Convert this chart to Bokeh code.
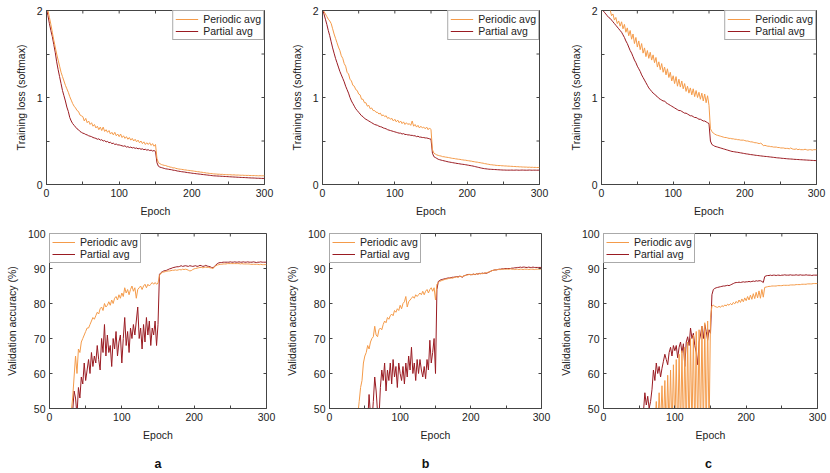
import math
from bokeh.plotting import figure
from bokeh.models import Range1d, FixedTicker, Legend, LegendItem, Title
from bokeh.layouts import column, row
from bokeh.embed import file_html
from bokeh.resources import INLINE

# ---------------- data ----------------
epochs = list(range(0, 301, 2))

x_ticks = [0, 100, 200, 300]
x_minor = [50, 150, 250]
loss_ticks = [0, 1, 2]
loss_minor = [0.5, 1.5]
acc_ticks = [50, 60, 70, 80, 90, 100]

series_names = ["Periodic avg", "Partial avg"]
panel_letters = ["a", "b", "c"]

a_loss_periodic = [
    2.08, 2.00, 1.92, 1.84, 1.75, 1.66, 1.58, 1.50, 1.43, 1.36,
    1.29, 1.24, 1.19, 1.14, 1.10, 1.06, 1.01, 0.97, 0.93, 0.90,
    0.88, 0.85, 0.84, 0.80, 0.79, 0.78, 0.73, 0.76, 0.71, 0.73,
    0.69, 0.71, 0.67, 0.69, 0.65, 0.67, 0.63, 0.66, 0.62, 0.66,
    0.61, 0.63, 0.60, 0.62, 0.58, 0.60, 0.57, 0.60, 0.56, 0.58,
    0.55, 0.58, 0.54, 0.56, 0.53, 0.55, 0.52, 0.54, 0.51, 0.53,
    0.50, 0.52, 0.49, 0.51, 0.48, 0.50, 0.47, 0.49, 0.46, 0.48,
    0.46, 0.48, 0.45, 0.47, 0.44, 0.46, 0.30, 0.25, 0.24, 0.23,
    0.225, 0.22, 0.218, 0.21, 0.207, 0.20, 0.198, 0.19, 0.192, 0.185,
    0.182, 0.178, 0.176, 0.174, 0.171, 0.168, 0.167, 0.163, 0.162, 0.16,
    0.157, 0.155, 0.152, 0.15, 0.147, 0.146, 0.142, 0.141, 0.137, 0.136,
    0.132, 0.131, 0.128, 0.126, 0.125, 0.122, 0.121, 0.12, 0.118, 0.118,
    0.116, 0.117, 0.114, 0.114, 0.113, 0.112, 0.113, 0.111, 0.11, 0.111,
    0.109, 0.108, 0.109, 0.107, 0.106, 0.107, 0.105, 0.105, 0.104, 0.105,
    0.103, 0.103, 0.102, 0.103, 0.101, 0.101, 0.10, 0.101, 0.10, 0.10,
    0.10]

a_loss_partial = [
    2.02, 1.94, 1.85, 1.77, 1.70, 1.61, 1.52, 1.41, 1.32, 1.24,
    1.16, 1.08, 1.02, 0.96, 0.89, 0.84, 0.77, 0.73, 0.70, 0.68,
    0.66, 0.64, 0.63, 0.61, 0.60, 0.59, 0.585, 0.575, 0.57, 0.56,
    0.555, 0.55, 0.54, 0.535, 0.53, 0.52, 0.525, 0.51, 0.515, 0.50,
    0.505, 0.49, 0.495, 0.48, 0.485, 0.47, 0.475, 0.46, 0.465, 0.455,
    0.455, 0.45, 0.445, 0.44, 0.445, 0.43, 0.435, 0.425, 0.43, 0.42,
    0.425, 0.415, 0.42, 0.41, 0.415, 0.405, 0.41, 0.40, 0.405, 0.395,
    0.40, 0.39, 0.395, 0.385, 0.39, 0.38, 0.25, 0.21, 0.20, 0.195,
    0.19, 0.185, 0.18, 0.178, 0.175, 0.172, 0.17, 0.165, 0.163, 0.16,
    0.155, 0.153, 0.15, 0.147, 0.145, 0.143, 0.14, 0.137, 0.135, 0.133,
    0.13, 0.128, 0.126, 0.124, 0.122, 0.12, 0.118, 0.116, 0.114, 0.112,
    0.11, 0.108, 0.106, 0.104, 0.102, 0.10, 0.099, 0.098, 0.097, 0.096,
    0.095, 0.094, 0.093, 0.092, 0.091, 0.09, 0.089, 0.088, 0.087, 0.086,
    0.085, 0.084, 0.083, 0.082, 0.081, 0.08, 0.08, 0.079, 0.078, 0.077,
    0.076, 0.075, 0.075, 0.074, 0.073, 0.072, 0.072, 0.071, 0.07, 0.07,
    0.07]

b_loss_periodic = [
    2.02, 1.99, 1.96, 1.93, 1.90, 1.88, 1.85, 1.79, 1.73, 1.68,
    1.63, 1.58, 1.54, 1.48, 1.45, 1.39, 1.36, 1.29, 1.27, 1.21,
    1.19, 1.14, 1.13, 1.09, 1.08, 1.04, 1.03, 0.98, 0.98, 0.94,
    0.94, 0.90, 0.91, 0.87, 0.88, 0.85, 0.85, 0.83, 0.83, 0.81,
    0.82, 0.79, 0.80, 0.78, 0.79, 0.76, 0.77, 0.75, 0.76, 0.73,
    0.75, 0.72, 0.74, 0.71, 0.73, 0.70, 0.72, 0.69, 0.71, 0.69,
    0.70, 0.68, 0.73, 0.67, 0.69, 0.66, 0.68, 0.65, 0.67, 0.65,
    0.66, 0.64, 0.66, 0.63, 0.65, 0.63, 0.40, 0.36, 0.35, 0.34,
    0.335, 0.33, 0.327, 0.32, 0.319, 0.315, 0.313, 0.31, 0.307, 0.303,
    0.30, 0.299, 0.295, 0.293, 0.29, 0.289, 0.285, 0.283, 0.28, 0.279,
    0.275, 0.273, 0.27, 0.268, 0.264, 0.262, 0.258, 0.257, 0.253, 0.251,
    0.247, 0.245, 0.24, 0.238, 0.234, 0.232, 0.228, 0.227, 0.224, 0.223,
    0.22, 0.219, 0.217, 0.218, 0.215, 0.215, 0.213, 0.213, 0.211, 0.211,
    0.209, 0.209, 0.207, 0.207, 0.205, 0.205, 0.203, 0.203, 0.201, 0.201,
    0.20, 0.20, 0.198, 0.199, 0.197, 0.198, 0.196, 0.197, 0.195, 0.196,
    0.195]

b_loss_partial = [
    2.02, 1.96, 1.90, 1.84, 1.77, 1.71, 1.64, 1.57, 1.51, 1.45,
    1.40, 1.35, 1.30, 1.26, 1.22, 1.18, 1.13, 1.09, 1.05, 1.00,
    0.96, 0.93, 0.90, 0.87, 0.85, 0.83, 0.81, 0.79, 0.78, 0.76,
    0.75, 0.74, 0.73, 0.72, 0.71, 0.70, 0.69, 0.685, 0.68, 0.67,
    0.665, 0.66, 0.65, 0.645, 0.64, 0.63, 0.625, 0.62, 0.615, 0.61,
    0.605, 0.60, 0.595, 0.59, 0.59, 0.58, 0.585, 0.575, 0.575, 0.57,
    0.57, 0.565, 0.565, 0.56, 0.56, 0.55, 0.555, 0.545, 0.545, 0.54,
    0.54, 0.535, 0.535, 0.53, 0.525, 0.52, 0.36, 0.32, 0.31, 0.30,
    0.29, 0.285, 0.28, 0.276, 0.272, 0.268, 0.264, 0.26, 0.257, 0.254,
    0.251, 0.248, 0.245, 0.242, 0.24, 0.237, 0.234, 0.232, 0.23, 0.227,
    0.224, 0.221, 0.218, 0.215, 0.212, 0.208, 0.204, 0.20, 0.196, 0.192,
    0.188, 0.185, 0.182, 0.18, 0.178, 0.176, 0.175, 0.174, 0.173, 0.172,
    0.171, 0.17, 0.169, 0.168, 0.167, 0.166, 0.166, 0.165, 0.165, 0.165,
    0.165, 0.166, 0.164, 0.165, 0.166, 0.165, 0.164, 0.165, 0.166, 0.165,
    0.165, 0.164, 0.165, 0.166, 0.165, 0.164, 0.165, 0.165, 0.164, 0.165,
    0.165]

c_loss_periodic = [
    2.30, 2.26, 2.22, 2.16, 2.11, 2.06, 2.01, 1.94, 1.96, 1.89,
    1.92, 1.85, 1.88, 1.82, 1.87, 1.79, 1.84, 1.75, 1.80, 1.71,
    1.77, 1.67, 1.73, 1.62, 1.69, 1.58, 1.65, 1.55, 1.62, 1.51,
    1.57, 1.47, 1.54, 1.45, 1.52, 1.43, 1.49, 1.40, 1.46, 1.35,
    1.41, 1.32, 1.39, 1.29, 1.35, 1.26, 1.33, 1.23, 1.29, 1.19,
    1.25, 1.16, 1.24, 1.13, 1.21, 1.12, 1.19, 1.10, 1.16, 1.07,
    1.13, 1.05, 1.11, 1.03, 1.10, 1.01, 1.08, 1.00, 1.06, 0.98,
    1.05, 0.96, 1.04, 0.94, 1.02, 0.91, 0.64, 0.61, 0.59, 0.58,
    0.57, 0.565, 0.56, 0.555, 0.55, 0.545, 0.54, 0.54, 0.535, 0.53,
    0.53, 0.525, 0.525, 0.52, 0.52, 0.515, 0.515, 0.51, 0.51, 0.51,
    0.505, 0.50, 0.50, 0.495, 0.49, 0.49, 0.485, 0.48, 0.48, 0.475,
    0.47, 0.475, 0.465, 0.445, 0.45, 0.445, 0.44, 0.44, 0.435, 0.435,
    0.43, 0.43, 0.43, 0.425, 0.425, 0.42, 0.42, 0.42, 0.415, 0.415,
    0.415, 0.41, 0.42, 0.41, 0.405, 0.405, 0.41, 0.40, 0.405, 0.40,
    0.40, 0.40, 0.405, 0.40, 0.395, 0.40, 0.40, 0.395, 0.40, 0.40,
    0.40]

c_loss_partial = [
    2.02, 2.00, 1.98, 1.96, 1.94, 1.92, 1.91, 1.89, 1.87, 1.85,
    1.83, 1.81, 1.79, 1.77, 1.75, 1.72, 1.69, 1.65, 1.62, 1.58,
    1.54, 1.51, 1.47, 1.43, 1.40, 1.36, 1.33, 1.30, 1.26, 1.23,
    1.20, 1.17, 1.14, 1.11, 1.09, 1.07, 1.05, 1.04, 1.02, 1.01,
    0.99, 0.98, 0.97, 0.96, 0.96, 0.94, 0.93, 0.92, 0.91, 0.90,
    0.89, 0.88, 0.87, 0.86, 0.85, 0.85, 0.84, 0.83, 0.82, 0.82,
    0.81, 0.80, 0.79, 0.79, 0.78, 0.77, 0.77, 0.76, 0.75, 0.75,
    0.74, 0.73, 0.73, 0.72, 0.71, 0.70, 0.50, 0.46, 0.45, 0.44,
    0.435, 0.43, 0.425, 0.42, 0.415, 0.41, 0.405, 0.40, 0.395, 0.39,
    0.385, 0.38, 0.378, 0.375, 0.372, 0.37, 0.367, 0.364, 0.361, 0.358,
    0.355, 0.352, 0.35, 0.347, 0.344, 0.342, 0.34, 0.337, 0.335, 0.333,
    0.331, 0.329, 0.327, 0.325, 0.323, 0.322, 0.32, 0.318, 0.316, 0.314,
    0.312, 0.31, 0.308, 0.306, 0.305, 0.303, 0.301, 0.30, 0.298, 0.297,
    0.295, 0.294, 0.293, 0.292, 0.29, 0.289, 0.288, 0.287, 0.286, 0.285,
    0.284, 0.283, 0.282, 0.281, 0.28, 0.279, 0.278, 0.277, 0.276, 0.275,
    0.275]

a_acc_periodic = [
    10, 10, 11, 12, 14, 17, 20, 23, 26, 29,
    32, 35, 38, 42, 46, 49, 53, 59, 65, 60,
    67, 66, 69, 70, 71, 72, 73, 73, 74, 75,
    76, 75.5, 76.5, 77.5, 77, 78.5, 79, 78, 80, 79,
    79.5, 80.5, 79.5, 81, 80, 81.5, 82, 81, 82.5, 81.5,
    83, 82, 84.5, 83, 84, 82.5, 84, 85, 83.5, 84.5,
    81.5, 84, 84.5, 85, 84, 85, 85.5, 84.5, 85.5, 85,
    85.5, 86, 85.5, 86, 85.5, 85.8, 88.0, 88.6, 88.9, 89.0,
    89.1, 89.2, 89.3, 89.3, 89.4, 89.5, 89.5, 89.6, 89.5, 89.6,
    89.7, 89.6, 89.8, 89.7, 89.8, 89.7, 89.5, 89.3, 89.4, 89.7,
    89.9, 90.0, 90.1, 90.2, 90.3, 90.3, 90.2, 90.3, 90.4, 90.3,
    90.3, 90.2, 90.1, 90.0, 90.4, 90.8, 91.0, 91.1, 91.2, 91.2,
    91.3, 91.3, 91.3, 91.4, 91.4, 91.4, 91.4, 91.4, 91.4, 91.4,
    91.4, 91.4, 91.3, 91.4, 91.3, 91.3, 91.3, 91.3, 91.3, 91.2,
    91.2, 91.2, 91.2, 91.2, 91.2, 91.1, 91.2, 91.1, 91.1, 91.1,
    91.1]

a_acc_partial = [
    10, 10, 10, 11, 12, 14, 16, 18, 21, 24,
    27, 30, 33, 37, 41, 45, 49, 55, 53, 48,
    56, 53, 59, 57, 63, 58, 61, 64, 60, 66,
    62, 65, 63, 68, 64, 61, 70, 66, 74, 65,
    71, 66, 68, 62, 70, 67, 72, 65, 69, 71,
    63, 70, 76, 68, 72, 66, 73, 70, 74, 71,
    75, 79, 70, 73, 67, 74, 69, 76, 71, 75,
    68, 73, 71, 75, 68, 74, 88.3, 88.8, 89.1, 89.3,
    89.4, 89.5, 89.7, 89.9, 90.0, 90.2, 90.3, 90.4, 90.5, 90.5,
    90.6, 90.8, 90.6, 90.7, 90.8, 90.7, 90.6, 90.8, 90.7, 90.6,
    90.7, 90.8, 90.6, 90.7, 90.9, 90.8, 90.6, 90.7, 90.9, 90.7,
    90.6, 90.5, 90.3, 90.2, 90.6, 91.0, 91.4, 91.6, 91.7, 91.7,
    91.8, 91.8, 91.8, 91.8, 91.8, 91.9, 91.8, 91.8, 91.9, 91.8,
    91.8, 91.9, 91.8, 91.8, 91.9, 91.8, 91.8, 91.9, 91.8, 91.8,
    91.8, 91.9, 91.8, 91.7, 91.8, 91.8, 91.9, 91.8, 91.8, 91.8,
    91.8]

b_acc_periodic = [
    10, 10, 10, 11, 12, 13, 15, 17, 19, 21,
    23, 25, 27, 29, 31, 33, 36, 39, 42, 45,
    48, 52, 56, 58, 63, 65, 66, 68, 67, 69,
    70, 70.5, 73.5, 71, 70.5, 72.5, 73, 72.5, 74, 75,
    74.5, 76, 75.5, 76.5, 77, 76.5, 78, 77.5, 78.5, 78,
    79.5, 78.5, 80, 80.5, 82, 79, 80.5, 81, 81.5, 82,
    81.5, 82.5, 82, 82.5, 83, 82.5, 83.5, 82.5, 83.5, 84,
    83, 84, 84.5, 83.5, 84.5, 81, 85.5, 86, 86.3, 86.5,
    86.6, 86.8, 86.9, 87.0, 87.1, 87.2, 87.3, 87.2, 87.4, 87.5,
    87.6, 87.5, 87.7, 87.8, 87.6, 87.9, 88.0, 88.1, 88.2, 88.3,
    88.3, 88.2, 88.4, 88.3, 88.5, 88.4, 88.5, 88.6, 88.5, 88.6,
    88.7, 88.8, 88.9, 89.0, 89.2, 89.4, 89.5, 89.6, 89.6, 89.7,
    89.7, 89.7, 89.8, 89.8, 89.8, 89.8, 89.8, 89.8, 89.9, 89.8,
    89.8, 89.7, 89.8, 89.8, 89.7, 89.8, 89.8, 89.7, 89.8, 89.8,
    89.8, 89.7, 89.8, 89.8, 89.8, 89.7, 89.8, 89.8, 89.8, 89.8,
    89.9]

b_acc_partial = [
    10, 10, 10, 10, 11, 11, 12, 12, 13, 14,
    15, 16, 17, 18, 20, 22, 24, 26, 28, 30,
    32, 34, 36, 38, 40, 42, 44, 46, 54, 48,
    46, 52, 59, 55, 49, 47, 56, 61, 58, 63,
    55, 61, 58, 63, 57, 64, 59, 62, 56, 63,
    60, 58, 62, 57, 63, 59, 65, 61, 67.5, 60,
    63, 58, 64, 60, 64, 61, 59, 62, 58.5, 64,
    61, 69.5, 63, 66, 70, 60, 84, 86.3, 86.6, 86.8,
    86.9, 87.0, 87.1, 87.2, 87.3, 87.3, 87.4, 87.5, 87.5, 87.6,
    87.7, 87.6, 87.8, 87.7, 87.5, 87.9, 88.0, 88.2, 88.3, 88.3,
    88.2, 88.3, 88.4, 88.2, 88.5, 88.4, 88.6, 88.5, 88.7, 88.6,
    88.7, 88.6, 88.8, 89.0, 89.2, 89.4, 89.5, 89.6, 89.6, 89.7,
    89.8, 89.8, 89.9, 89.9, 90.0, 90.0, 90.0, 90.0, 90.0, 90.1,
    90.1, 90.2, 90.2, 90.3, 90.3, 90.4, 90.3, 90.4, 90.4, 90.3,
    90.3, 90.4, 90.3, 90.3, 90.4, 90.3, 90.3, 90.3, 90.3, 90.3,
    90.3]

c_acc_periodic = [
    10, 10, 10, 10, 10, 10, 11, 11, 11, 12,
    12, 13, 13, 14, 15, 16, 17, 18, 19, 20,
    22, 24, 26, 28, 30, 32, 34, 36, 38, 40,
    42, 44, 45, 47, 46, 48, 45, 52, 44, 54.5,
    45, 56.5, 44, 58, 43, 59.5, 44, 61, 43, 62.5,
    44, 64, 42, 65.5, 43, 66.5, 42, 67.5, 43, 69,
    42, 70, 43, 71, 42, 72, 43, 72.5, 42, 73.5,
    43, 74.5, 42, 75, 43, 76, 79.3, 79.5, 79.2, 79.0,
    78.9, 79.2, 78.9, 79.4, 79.1, 79.6, 79.3, 79.8, 79.5, 80.0,
    79.6, 80.3, 79.9, 80.6, 80.1, 81.0, 80.3, 81.3, 80.5, 81.6,
    80.8, 82.0, 81.0, 82.4, 81.2, 82.8, 81.4, 83.2, 81.6, 83.6,
    81.5, 84.0, 81.8, 84.6, 84.7, 84.8, 84.9, 84.9, 85.0, 85.0,
    85.0, 85.0, 85.1, 85.1, 85.1, 85.1, 85.2, 85.2, 85.2, 85.2,
    85.2, 85.3, 85.3, 85.3, 85.3, 85.4, 85.4, 85.4, 85.4, 85.5,
    85.5, 85.5, 85.5, 85.6, 85.6, 85.6, 85.6, 85.7, 85.7, 85.7,
    85.7]

c_acc_partial = [
    10, 10, 10, 10, 11, 11, 12, 12, 13, 14,
    15, 16, 17, 18, 20, 22, 24, 26, 28, 30,
    32, 34, 36, 38, 40, 42, 44, 46, 49, 54.5,
    51, 53.5, 50, 52, 55.5, 61, 58, 63, 60, 62,
    59, 61.5, 63.5, 65.5, 64, 62.5, 66, 67.5, 65, 68,
    66.5, 68, 64.5, 67.5, 69, 66, 68.5, 62, 69, 70.5,
    68, 73, 70, 71.5, 68, 66, 62.5, 69, 71, 73.5,
    70, 74, 72, 69.5, 72.5, 71.5, 82.5, 84.0, 84.3, 84.5,
    84.6, 84.7, 84.8, 84.9, 85.0, 85.0, 85.1, 85.2, 85.1, 85.3,
    85.5, 85.7, 85.9, 86.0, 86.0, 86.1, 86.0, 86.1, 86.2, 86.1,
    86.2, 86.2, 86.3, 86.2, 86.3, 86.4, 86.3, 86.5, 86.4, 86.5,
    86.5, 86.3, 86.0, 87.7, 87.9, 88.0, 88.0, 88.1, 88.0, 88.1,
    88.1, 88.0, 88.1, 88.1, 88.0, 88.1, 88.1, 88.2, 88.1, 88.1,
    88.1, 88.2, 88.1, 88.1, 88.1, 88.2, 88.1, 88.1, 88.2, 88.1,
    88.1, 88.1, 88.2, 88.1, 88.1, 88.1, 88.0, 88.1, 88.1, 88.1,
    88.1]

# ---------------- styling ----------------
ORANGE = "#F49B4A"
RED = "#9A1B22"
FRAME = "#444444"
TEXT = "#222222"
FONT = "Liberation Sans"
FS = "10.5px"


def make_panel(width, height, borders, yrange, yticks, yminor, ylabel,
               periodic, partial, legend_loc):
    bl, br, bt, bb = borders
    p = figure(width=width, height=height,
               x_range=Range1d(0, 300), y_range=Range1d(*yrange),
               output_backend="svg", toolbar_location=None,
               min_border_left=bl, min_border_right=br,
               min_border_top=bt, min_border_bottom=bb)
    p.grid.visible = False
    p.outline_line_color = FRAME
    p.outline_line_width = 1
    p.background_fill_color = "white"
    p.border_fill_color = "white"

    r_par = p.line(epochs, partial, line_color=RED, line_width=1)
    r_per = p.line(epochs, periodic, line_color=ORANGE, line_width=1)

    p.xaxis.ticker = FixedTicker(ticks=x_ticks, minor_ticks=x_minor)
    p.yaxis.ticker = FixedTicker(ticks=yticks, minor_ticks=yminor)
    p.xaxis.axis_label = "Epoch"
    p.yaxis.axis_label = ylabel
    for ax in (p.xaxis[0], p.yaxis[0]):
        ax.major_tick_in = 3
        ax.major_tick_out = 0
        ax.minor_tick_in = 3
        ax.minor_tick_out = 0
        ax.axis_line_color = FRAME
        ax.major_tick_line_color = FRAME
        ax.minor_tick_line_color = FRAME
        ax.major_label_text_font = FONT
        ax.major_label_text_font_size = FS
        ax.major_label_text_color = TEXT
        ax.axis_label_text_font = FONT
        ax.axis_label_text_font_size = FS
        ax.axis_label_text_font_style = "normal"
        ax.axis_label_text_color = TEXT
        ax.major_label_standoff = 4
    p.xaxis.axis_label_standoff = 5
    p.yaxis.axis_label_standoff = 7

    # mirrored inward ticks on the right and top edges
    right_t = list(yticks) + list(yminor)
    p.ray(x=[300] * len(right_t), y=right_t, length=3, angle=math.pi,
          length_units="screen", line_color=FRAME, line_width=1)
    top_t = x_ticks + x_minor
    p.ray(x=top_t, y=[yrange[1]] * len(top_t), length=3, angle=-math.pi / 2,
          length_units="screen", line_color=FRAME, line_width=1)

    legend = Legend(items=[LegendItem(label=series_names[0], renderers=[r_per]),
                           LegendItem(label=series_names[1], renderers=[r_par])],
                    location=legend_loc, margin=0, padding=2, spacing=0,
                    label_standoff=5, glyph_width=23, glyph_height=12,
                    label_height=12, border_line_color="#555555",
                    border_line_width=1, background_fill_color="white",
                    background_fill_alpha=1.0, label_text_font=FONT,
                    label_text_font_size=FS, label_text_color=TEXT)
    p.add_layout(legend)
    return p


def make_letter(width, height, bl, br, letter):
    # thin strip under a column that carries the panel letter, centred on its frame
    f = figure(width=width, height=height, x_range=Range1d(0, 300), y_range=Range1d(0, 1),
               output_backend="svg", toolbar_location=None,
               x_axis_location=None, y_axis_location=None,
               min_border_left=bl, min_border_right=br,
               min_border_top=0, min_border_bottom=0)
    f.grid.visible = False
    f.outline_line_color = None
    f.border_fill_color = "white"
    f.background_fill_color = "white"
    t = Title(text=letter, align="center", text_font=FONT, text_font_size="12.5px",
              text_font_style="bold", text_color="#111111", standoff=6)
    f.add_layout(t, "below")
    return f


loss_label = "Training loss (softmax)"
acc_label = "Validation accuracy (%)"

# top row: frames at x 46-264, 322-539, 599-816 ; y 10-184
pa = make_panel(285, 225, (46, 21, 10, 41), (0, 2), loss_ticks, loss_minor, loss_label,
                a_loss_periodic, a_loss_partial, "top_right")
pb = make_panel(281, 225, (37, 27, 10, 41), (0, 2), loss_ticks, loss_minor, loss_label,
                b_loss_periodic, b_loss_partial, "top_right")
pc = make_panel(264, 225, (33, 14, 10, 41), (0, 2), loss_ticks, loss_minor, loss_label,
                c_loss_periodic, c_loss_partial, "top_right")

# bottom row: frames at x 49-266, 323-541, 599-817 ; y 233-408
qa = make_panel(282, 219, (49, 16, 8, 36), (50, 100), acc_ticks, [], acc_label,
                a_acc_periodic, a_acc_partial, "top_left")
qb = make_panel(274, 219, (41, 15, 8, 36), (50, 100), acc_ticks, [], acc_label,
                b_acc_periodic, b_acc_partial, "top_left")
qc = make_panel(274, 219, (43, 13, 8, 36), (50, 100), acc_ticks, [], acc_label,
                c_acc_periodic, c_acc_partial, "top_left")

# letters row
la = make_letter(282, 29, 49, 16, panel_letters[0])
lb = make_letter(274, 29, 34, 22, panel_letters[1])
lc = make_letter(274, 29, 43, 13, panel_letters[2])

layout = column(row(pa, pb, pc, spacing=0),
                row(qa, qb, qc, spacing=0),
                row(la, lb, lc, spacing=0), spacing=0)

open("out.html", "w").write(file_html(layout, INLINE))
